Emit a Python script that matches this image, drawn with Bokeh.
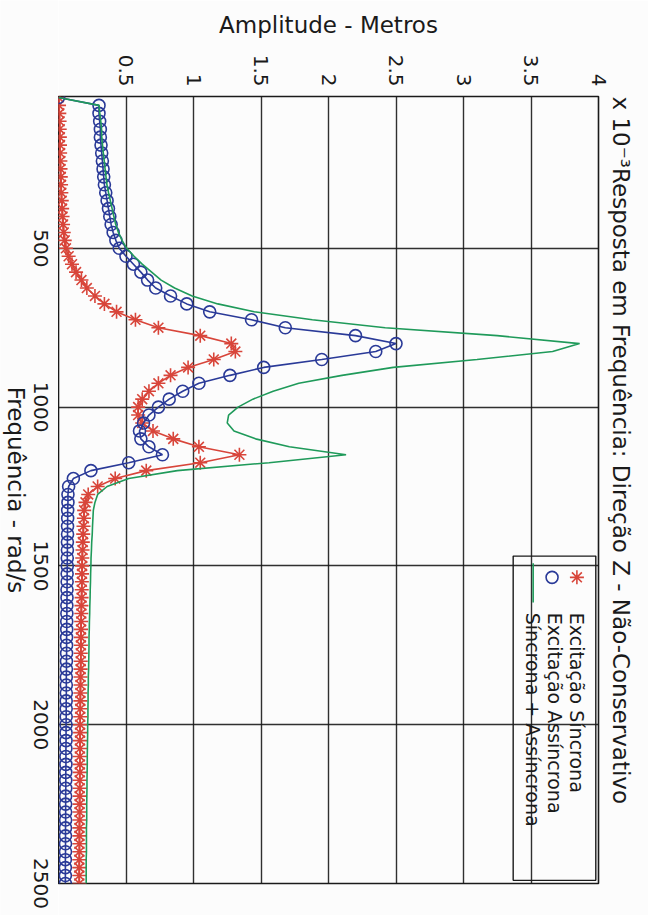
import math

from bokeh.core.properties import value
from bokeh.embed import file_html
from bokeh.layouts import row
from bokeh.models import ColumnDataSource, FixedTicker, Range1d, Title
from bokeh.plotting import figure
from bokeh.resources import INLINE

# Frequency grid (rad/s)
freq = list(range(25, 2501, 25))

# Amplitude (x 1e-3 m) - synchronous excitation
sincrona = [
    0.000, 0.004, 0.006, 0.008, 0.009, 0.010, 0.011, 0.012, 0.014, 0.015,
    0.017, 0.019, 0.021, 0.024, 0.027, 0.030, 0.034, 0.039, 0.046, 0.055,
    0.075, 0.100, 0.130, 0.170, 0.210, 0.270, 0.340, 0.430, 0.570, 0.740,
    1.050, 1.280, 1.310, 1.150, 0.960, 0.830, 0.740, 0.670, 0.620, 0.590,
    0.590, 0.620, 0.700, 0.850, 1.040, 1.340, 1.050, 0.650, 0.420, 0.290,
    0.220, 0.200, 0.190, 0.188, 0.185, 0.183, 0.180, 0.178, 0.176, 0.175,
    0.174, 0.173, 0.172, 0.171, 0.170, 0.169, 0.168, 0.167, 0.166, 0.166,
    0.165, 0.165, 0.164, 0.163, 0.163, 0.162, 0.162, 0.161, 0.161, 0.160,
    0.160, 0.159, 0.159, 0.158, 0.158, 0.158, 0.157, 0.157, 0.157, 0.156,
    0.156, 0.156, 0.155, 0.155, 0.155, 0.155, 0.154, 0.154, 0.154, 0.154,
]

# Amplitude (x 1e-3 m) - asynchronous excitation
assincrona = [
    0.000, 0.300, 0.300, 0.305, 0.310, 0.310, 0.315, 0.320, 0.325, 0.330,
    0.335, 0.340, 0.350, 0.360, 0.370, 0.380, 0.390, 0.405, 0.425, 0.450,
    0.500, 0.555, 0.610, 0.660, 0.720, 0.830, 0.950, 1.120, 1.430, 1.680,
    2.200, 2.500, 2.350, 1.950, 1.520, 1.270, 1.040, 0.920, 0.820, 0.740,
    0.670, 0.630, 0.600, 0.610, 0.670, 0.770, 0.520, 0.240, 0.110, 0.075,
    0.070, 0.070, 0.068, 0.068, 0.067, 0.067, 0.066, 0.066, 0.065, 0.065,
    0.064, 0.064, 0.063, 0.063, 0.062, 0.062, 0.061, 0.061, 0.060, 0.060,
    0.060, 0.059, 0.059, 0.058, 0.058, 0.058, 0.057, 0.057, 0.057, 0.056,
    0.056, 0.056, 0.055, 0.055, 0.055, 0.054, 0.054, 0.054, 0.053, 0.053,
    0.053, 0.053, 0.052, 0.052, 0.052, 0.052, 0.051, 0.051, 0.051, 0.051,
]

# Amplitude (x 1e-3 m) - combined synchronous + asynchronous excitation
combinada = [
    0.000, 0.300, 0.306, 0.313, 0.319, 0.320, 0.326, 0.332, 0.339, 0.345,
    0.352, 0.359, 0.371, 0.384, 0.397, 0.410, 0.424, 0.444, 0.471, 0.505,
    0.560, 0.620, 0.690, 0.760, 0.860, 0.990, 1.180, 1.450, 1.880, 2.420,
    3.250, 3.860, 3.660, 3.100, 2.480, 2.100, 1.780, 1.590, 1.440, 1.330,
    1.260, 1.250, 1.300, 1.460, 1.710, 2.130, 1.560, 0.880, 0.520, 0.360,
    0.290, 0.270, 0.258, 0.255, 0.252, 0.250, 0.246, 0.244, 0.241, 0.240,
    0.238, 0.237, 0.235, 0.234, 0.232, 0.231, 0.229, 0.228, 0.226, 0.226,
    0.225, 0.224, 0.223, 0.221, 0.221, 0.219, 0.219, 0.218, 0.218, 0.216,
    0.216, 0.215, 0.214, 0.213, 0.213, 0.212, 0.211, 0.211, 0.210, 0.209,
    0.209, 0.209, 0.207, 0.207, 0.207, 0.207, 0.205, 0.205, 0.205, 0.205,
]

amp_ticks = [0.5, 1, 1.5, 2, 2.5, 3, 3.5, 4]
freq_ticks = [500, 1000, 1500, 2000, 2500]
freq_tick_labels = ["500", "1000", "1500", "2000", "2500"]

legend_labels = ["Excitação Síncrona", "Excitação Assíncrona", "Síncrona + Assíncrona"]

RED = "#d8453a"
BLUE = "#2a3a98"
GREEN = "#1f9a5a"
INK = "#1a1a1a"
PAPER = "#fcfcfc"
FONT = "DejaVu Sans"

AMP_MIN, AMP_MAX = 0.0, 4.0
F_MIN, F_MAX = 22.0, 2500.0

# Page geometry (px): the page is turned a quarter turn, so frequency runs
# down the page and amplitude runs to the right.
PAGE_W, PAGE_H = 648, 915
STRIP_W = 58                      # strip holding the frequency axis labels
FRAME_TOP, FRAME_BOTTOM = 96, 32  # borders above / below the plotting frame
FRAME_RIGHT = 50

p = figure(
    width=PAGE_W - STRIP_W, height=PAGE_H,
    x_range=Range1d(AMP_MIN, AMP_MAX),
    y_range=Range1d(F_MAX, F_MIN),
    x_axis_location="above", y_axis_location=None,
    output_backend="svg", toolbar_location=None,
    min_border_left=0, min_border_right=FRAME_RIGHT,
    min_border_top=FRAME_TOP, min_border_bottom=FRAME_BOTTOM,
    background_fill_color=PAPER, border_fill_color=PAPER,
)
p.frame_align = False

p.outline_line_color = INK
p.outline_line_width = 1.6

xa = p.xaxis[0]
xa.ticker = FixedTicker(ticks=amp_ticks)
xa.axis_label = "Amplitude - Metros"
xa.major_label_orientation = -math.pi / 2
xa.major_label_standoff = 10
xa.axis_label_standoff = 14
xa.axis_line_color = None
xa.major_tick_in = 0
xa.major_tick_out = 0
xa.minor_tick_line_color = None
xa.major_label_text_font = FONT
xa.major_label_text_font_size = "20px"
xa.major_label_text_color = INK
xa.axis_label_text_font = FONT
xa.axis_label_text_font_size = "23px"
xa.axis_label_text_font_style = "normal"
xa.axis_label_text_color = INK

p.ygrid.ticker = FixedTicker(ticks=freq_ticks)
p.grid.grid_line_color = INK
p.grid.grid_line_width = 1.4
p.grid.grid_line_alpha = 0.9

src = ColumnDataSource(dict(freq=freq, sinc=sincrona, assinc=assincrona, comb=combinada))

p.line("sinc", "freq", source=src, line_color=RED, line_width=1.6)
p.scatter("sinc", "freq", source=src, marker="asterisk", size=14,
          line_color=RED, line_width=1.6)
p.line("assinc", "freq", source=src, line_color=BLUE, line_width=1.6)
p.scatter("assinc", "freq", source=src, marker="circle", size=12,
          fill_color=None, line_color=BLUE, line_width=1.6)
p.line("comb", "freq", source=src, line_color=GREEN, line_width=1.6)


# Legend drawn by hand so its entries can run along the turned page.
def ax_at(frac):
    return AMP_MIN + frac * (AMP_MAX - AMP_MIN)


def f_at(frac):
    return F_MIN + frac * (F_MAX - F_MIN)


p.quad(left=[ax_at(0.842)], right=[ax_at(0.995)], top=[f_at(0.584)], bottom=[f_at(0.996)],
       fill_color=None, line_color=INK, line_width=1.4)
p.scatter([ax_at(0.960)], [f_at(0.611)], marker="asterisk", size=14,
          line_color=RED, line_width=1.6)
p.scatter([ax_at(0.914)], [f_at(0.611)], marker="circle", size=12,
          fill_color=None, line_color=BLUE, line_width=1.6)
p.line([ax_at(0.879), ax_at(0.879)], [f_at(0.593), f_at(0.643)],
       line_color=GREEN, line_width=1.6)
p.text(x=[ax_at(0.960), ax_at(0.919), ax_at(0.879)], y=[f_at(0.656)] * 3,
       text=legend_labels, angle=-math.pi / 2, text_align="left", text_baseline="middle",
       text_font=value(FONT), text_font_size="19px", text_color=INK)

p.add_layout(Title(text="x 10⁻³Resposta em Frequência: Direção Z - Não-Conservativo",
                   align="left", text_font=FONT, text_font_size="23px",
                   text_font_style="normal", text_color=INK, standoff=18), "right")

# Frequency axis labels live in a narrow strip to the left of the frame; its
# vertical range spans the whole page height on the same frequency scale.
frame_h = PAGE_H - FRAME_TOP - FRAME_BOTTOM
f_per_px = (F_MAX - F_MIN) / frame_h
strip = figure(
    width=STRIP_W, height=PAGE_H,
    x_range=Range1d(0, STRIP_W),
    y_range=Range1d(F_MAX + FRAME_BOTTOM * f_per_px, F_MIN - FRAME_TOP * f_per_px),
    x_axis_location=None, y_axis_location=None,
    output_backend="svg", toolbar_location=None,
    min_border=0, outline_line_color=None,
    background_fill_color=PAPER, border_fill_color=PAPER,
)
strip.frame_align = False
strip.grid.visible = False
strip.text(x=[40] * len(freq_ticks), y=freq_ticks, text=freq_tick_labels,
           angle=-math.pi / 2, text_align="center", text_baseline="middle",
           text_font=value(FONT), text_font_size="20px", text_color=INK)
strip.text(x=[15], y=[(F_MIN + F_MAX) / 2], text=["Frequência - rad/s"],
           angle=-math.pi / 2, text_align="center", text_baseline="middle",
           text_font=value(FONT), text_font_size="23px", text_color=INK)

page = row(strip, p, spacing=0)
open("out.html", "w").write(file_html(page, INLINE))
